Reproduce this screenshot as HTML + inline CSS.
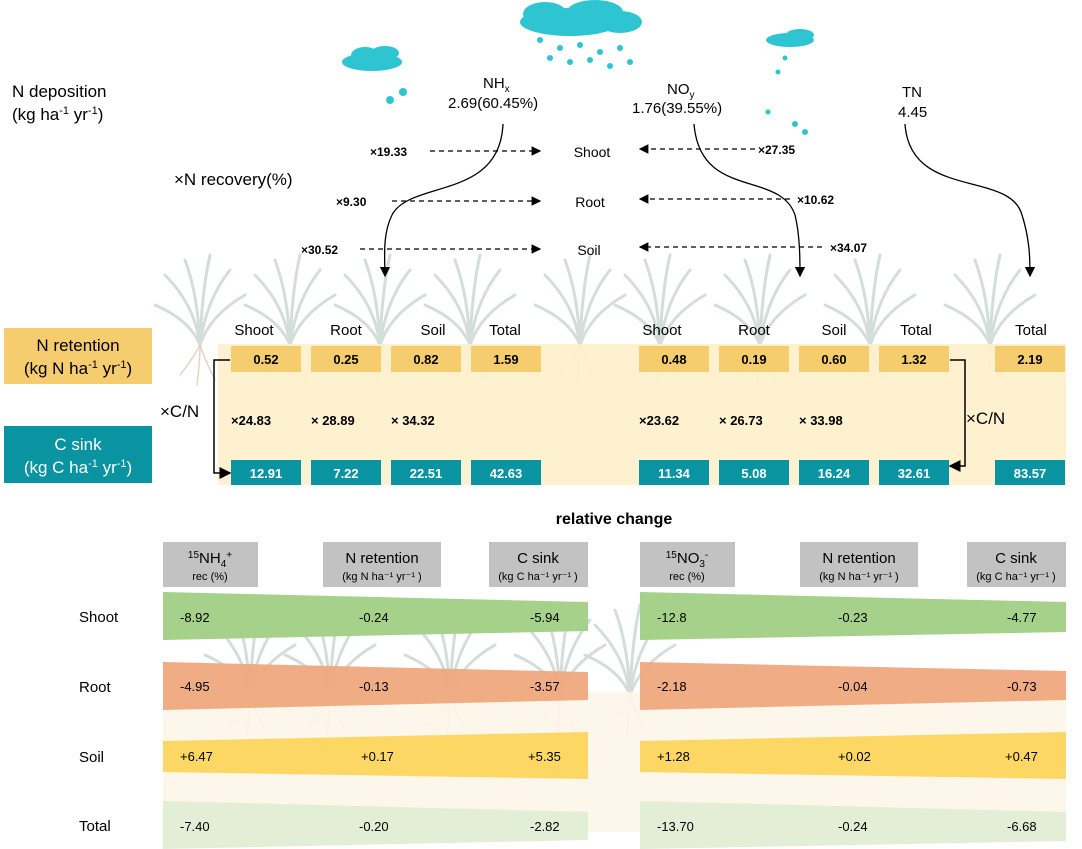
<!DOCTYPE html><html><head><style>body{margin:0;background:#fff}svg{display:block}text{font-family:"Liberation Sans",Arial,sans-serif}</style></head><body>
<svg width="1082" height="849" viewBox="0 0 1082 849">
<defs><marker id="ah" markerWidth="8" markerHeight="8" refX="7" refY="4" orient="auto"><path d="M0,0L8,4L0,8z" fill="#000"/></marker>
<g id="grass" stroke="#c9d6d2" stroke-width="3" fill="none" stroke-linecap="round"><path d="M0,0Q-5,-40 -35,-70"/><path d="M0,0Q-2,-50 -15,-85"/><path d="M0,0Q2,-55 10,-90"/><path d="M0,0Q6,-45 30,-75"/><path d="M0,0Q10,-30 45,-50"/><path d="M0,0Q-10,-25 -45,-40"/><path d="M0,0Q-8,15 -20,30M0,0Q5,15 15,35M0,0Q0,15 -3,40" stroke="#dccbb8" stroke-width="1.5"/></g></defs>
<g opacity="0.8"><use href="#grass" x="200" y="345"/><use href="#grass" x="290" y="345"/><use href="#grass" x="380" y="345"/><use href="#grass" x="470" y="345"/><use href="#grass" x="580" y="345"/><use href="#grass" x="660" y="345"/><use href="#grass" x="760" y="345"/><use href="#grass" x="870" y="345"/><use href="#grass" x="990" y="345"/>
<use href="#grass" x="250" y="695"/><use href="#grass" x="330" y="695"/><use href="#grass" x="450" y="695"/><use href="#grass" x="560" y="695"/><use href="#grass" x="630" y="695"/></g>
<g fill="#2fc4d2">
<ellipse cx="570" cy="22" rx="50" ry="14"/><ellipse cx="545" cy="14" rx="22" ry="12"/><ellipse cx="595" cy="12" rx="28" ry="12"/><ellipse cx="620" cy="22" rx="22" ry="11"/>
<ellipse cx="372" cy="62" rx="30" ry="9"/><ellipse cx="365" cy="55" rx="14" ry="8"/><ellipse cx="385" cy="53" rx="14" ry="7"/>
<ellipse cx="790" cy="40" rx="24" ry="7"/><ellipse cx="800" cy="35" rx="14" ry="6"/>
<circle cx="390" cy="100" r="4"/><circle cx="403" cy="92" r="4"/><circle cx="540" cy="40" r="3"/><circle cx="560" cy="48" r="3"/><circle cx="580" cy="45" r="3"/><circle cx="600" cy="52" r="3"/><circle cx="620" cy="48" r="3"/><circle cx="550" cy="58" r="3"/><circle cx="570" cy="62" r="3"/><circle cx="590" cy="60" r="3"/><circle cx="610" cy="66" r="3"/><circle cx="630" cy="62" r="3"/><circle cx="778" cy="72" r="2.5"/><circle cx="768" cy="112" r="2.5"/><circle cx="795" cy="124" r="3"/><circle cx="805" cy="132" r="3"/><circle cx="785" cy="58" r="2.5"/>
</g>
<text x="12" y="97" font-size="17">N deposition</text>
<text x="12" y="120" font-size="17">(kg ha<tspan font-size="11" dy="-6">-1</tspan><tspan dy="6"> yr</tspan><tspan font-size="11" dy="-6">-1</tspan><tspan dy="6">)</tspan></text>
<text x="483" y="88" font-size="15">NH<tspan font-size="10" dy="4">x</tspan></text>
<text x="448" y="108" font-size="15">2.69(60.45%)</text>
<text x="667" y="94" font-size="15">NO<tspan font-size="10" dy="4">y</tspan></text>
<text x="632" y="113" font-size="15">1.76(39.55%)</text>
<text x="902" y="97" font-size="15">TN</text><text x="898" y="117" font-size="15">4.45</text>
<text x="174" y="185" font-size="17">×N recovery(%)</text>
<g font-size="14" text-anchor="middle"><text x="592" y="157">Shoot</text><text x="590" y="207">Root</text><text x="589" y="255">Soil</text></g>
<g font-size="12" font-weight="bold"><text x="370" y="156">×19.33</text><text x="336" y="206">×9.30</text><text x="301" y="254">×30.52</text><text x="758" y="154">×27.35</text><text x="797" y="204">×10.62</text><text x="830" y="252">×34.07</text></g>
<g stroke="#000" stroke-width="1.2" stroke-dasharray="5,4" fill="none" marker-end="url(#ah)">
<path d="M430,151H540"/><path d="M392,201H540"/><path d="M360,249H540"/><path d="M755,149H640"/><path d="M790,199H640"/><path d="M822,247H640"/></g>
<g stroke="#000" stroke-width="1.3" fill="none" marker-end="url(#ah)">
<path d="M503,124C500,200 410,180 392,215 C382,235 385,260 385,276"/>
<path d="M694,124C700,200 780,170 795,215 C800,235 800,260 800,276"/>
<path d="M905,124C910,200 1010,170 1022,215 C1030,240 1030,260 1030,276"/></g>
<rect x="218" y="344" width="848" height="141" fill="#fdf0cc" opacity="0.92"/>
<rect x="163" y="692" width="903" height="140" fill="#fdf5e8" opacity="0.9"/>
<rect x="4" y="328" width="148" height="56" fill="#f5cd6e"/>
<rect x="4" y="426" width="148" height="57" fill="#0a93a0"/>
<text x="78" y="351" font-size="17" text-anchor="middle">N retention</text>
<text x="78" y="374" font-size="17" text-anchor="middle">(kg N ha<tspan font-size="11" dy="-6">-1</tspan><tspan dy="6"> yr</tspan><tspan font-size="11" dy="-6">-1</tspan><tspan dy="6">)</tspan></text>
<text x="78" y="450" font-size="17" fill="#fff" text-anchor="middle">C sink</text>
<text x="78" y="473" font-size="17" fill="#fff" text-anchor="middle">(kg C ha<tspan font-size="11" dy="-6">-1</tspan><tspan dy="6"> yr</tspan><tspan font-size="11" dy="-6">-1</tspan><tspan dy="6">)</tspan></text>
<g font-size="15" text-anchor="middle"><text x="254" y="335">Shoot</text><text x="346" y="335">Root</text><text x="433" y="335">Soil</text><text x="505" y="335">Total</text><text x="662" y="335">Shoot</text><text x="754" y="335">Root</text><text x="834" y="335">Soil</text><text x="916" y="335">Total</text><text x="1031" y="335">Total</text></g>
<g fill="#f5cd6e"><rect x="231" y="346" width="70" height="26"/><rect x="311" y="346" width="70" height="26"/><rect x="391" y="346" width="70" height="26"/><rect x="471" y="346" width="70" height="26"/><rect x="639" y="346" width="70" height="26"/><rect x="719" y="346" width="70" height="26"/><rect x="799" y="346" width="70" height="26"/><rect x="879" y="346" width="70" height="26"/><rect x="995" y="346" width="70" height="26"/></g>
<g fill="#0a93a0"><rect x="231" y="460" width="70" height="25"/><rect x="311" y="460" width="70" height="25"/><rect x="391" y="460" width="70" height="25"/><rect x="471" y="460" width="70" height="25"/><rect x="639" y="460" width="70" height="25"/><rect x="719" y="460" width="70" height="25"/><rect x="799" y="460" width="70" height="25"/><rect x="879" y="460" width="70" height="25"/><rect x="995" y="460" width="70" height="25"/></g>
<g font-size="13" font-weight="bold" text-anchor="middle"><text x="266" y="364">0.52</text><text x="346" y="364">0.25</text><text x="426" y="364">0.82</text><text x="506" y="364">1.59</text><text x="674" y="364">0.48</text><text x="754" y="364">0.19</text><text x="834" y="364">0.60</text><text x="914" y="364">1.32</text><text x="1030" y="364">2.19</text></g>
<g font-size="13" font-weight="bold" text-anchor="middle" fill="#fff"><text x="266" y="478">12.91</text><text x="346" y="478">7.22</text><text x="426" y="478">22.51</text><text x="506" y="478">42.63</text><text x="674" y="478">11.34</text><text x="754" y="478">5.08</text><text x="834" y="478">16.24</text><text x="914" y="478">32.61</text><text x="1030" y="478">83.57</text></g>
<g font-size="13" font-weight="bold"><text x="231" y="425">×24.83</text><text x="311" y="425">× 28.89</text><text x="391" y="425">× 34.32</text><text x="639" y="425">×23.62</text><text x="719" y="425">× 26.73</text><text x="799" y="425">× 33.98</text></g>
<text x="160" y="417" font-size="17">×C/N</text><text x="966" y="424" font-size="17">×C/N</text>
<g stroke="#000" stroke-width="1.5" fill="none" marker-end="url(#ah)"><path d="M230,360H214V473H230"/><path d="M950,360H965V466H950"/></g>
<text x="614" y="524" font-size="16" font-weight="bold" text-anchor="middle">relative change</text>
<g fill="#c2c2c2"><rect x="163" y="542" width="95" height="45"/><rect x="323" y="542" width="118" height="45"/><rect x="489" y="542" width="99" height="45"/><rect x="640" y="542" width="95" height="45"/><rect x="800" y="542" width="118" height="45"/><rect x="967" y="542" width="99" height="45"/></g>
<g text-anchor="middle"><text x="210" y="563" font-size="15"><tspan font-size="10" dy="-5">15</tspan><tspan dy="5">NH</tspan><tspan font-size="10" dy="4">4</tspan><tspan font-size="10" dy="-9">+</tspan></text><text x="210" y="580" font-size="11">rec (%)</text>
<text x="382" y="563" font-size="15">N retention</text><text x="382" y="580" font-size="11">(kg N ha⁻¹ yr⁻¹ )</text>
<text x="538" y="563" font-size="15">C sink</text><text x="538" y="580" font-size="11">(kg C ha⁻¹ yr⁻¹ )</text>
<text x="687" y="563" font-size="15"><tspan font-size="10" dy="-5">15</tspan><tspan dy="5">NO</tspan><tspan font-size="10" dy="4">3</tspan><tspan font-size="10" dy="-9">-</tspan></text><text x="687" y="580" font-size="11">rec (%)</text>
<text x="859" y="563" font-size="15">N retention</text><text x="859" y="580" font-size="11">(kg N ha⁻¹ yr⁻¹ )</text>
<text x="1016" y="563" font-size="15">C sink</text><text x="1016" y="580" font-size="11">(kg C ha⁻¹ yr⁻¹ )</text></g>
<g font-size="15"><text x="79" y="622">Shoot</text><text x="79" y="692">Root</text><text x="79" y="762">Soil</text><text x="79" y="831">Total</text></g>
<path d="M163,592L588,602V631L163,640z" fill="#a6d18a"/><path d="M640,592L1066,602V632L640,640z" fill="#a6d18a"/>
<path d="M163,662L588,672V700L163,710z" fill="#efa67b" opacity="0.92"/><path d="M640,662L1066,671V700L640,710z" fill="#efa67b" opacity="0.92"/>
<path d="M163,741L588,732V779L163,772z" fill="#fdd764"/><path d="M640,741L1066,732V779L640,772z" fill="#fdd764"/>
<path d="M163,801L588,812V840L163,849z" fill="#e2eed6"/><path d="M640,801L1066,812V841L640,849z" fill="#e2eed6"/>
<g font-size="13"><text x="180" y="622">-8.92</text><text x="359" y="622">-0.24</text><text x="530" y="622">-5.94</text><text x="657" y="622">-12.8</text><text x="838" y="622">-0.23</text><text x="1007" y="622">-4.77</text>
<text x="180" y="691">-4.95</text><text x="359" y="691">-0.13</text><text x="530" y="691">-3.57</text><text x="657" y="691">-2.18</text><text x="838" y="691">-0.04</text><text x="1007" y="691">-0.73</text>
<text x="180" y="761">+6.47</text><text x="361" y="761">+0.17</text><text x="528" y="761">+5.35</text><text x="657" y="761">+1.28</text><text x="838" y="761">+0.02</text><text x="1005" y="761">+0.47</text>
<text x="180" y="831">-7.40</text><text x="359" y="831">-0.20</text><text x="530" y="831">-2.82</text><text x="657" y="831">-13.70</text><text x="838" y="831">-0.24</text><text x="1007" y="831">-6.68</text></g>
</svg></body></html>
